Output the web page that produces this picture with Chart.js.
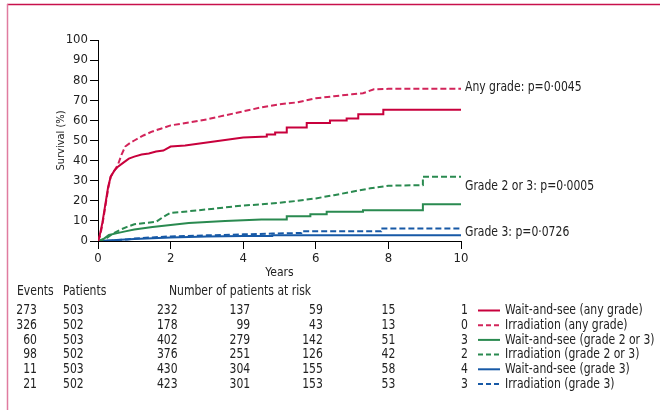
<!DOCTYPE html>
<html>
<head>
<meta charset="utf-8">
<script src="https://cdn.jsdelivr.net/npm/chart.js@4/dist/chart.umd.min.js"></script>
<style>
  body { margin: 0; background: #fff; }
  canvas { display: block; }
</style>
</head>
<body>
<canvas id="myChart" width="660" height="410"></canvas>
<script>
// cumulative incidence curves (years, %)
var waitAnyYears = [0, 0.05, 0.12, 0.2, 0.28, 0.35, 0.45, 0.55, 0.7, 0.85, 1, 1.2, 1.4, 1.6, 1.8, 2, 2.4, 2.8, 3.2, 3.6, 4, 4.65, 4.65, 4.88, 4.88, 5.2, 5.2, 5.75, 5.75, 6.39, 6.39, 6.85, 6.85, 7.17, 7.17, 7.86, 7.86, 10];
var waitAnyValues = [0, 3, 9, 18, 27, 32, 35, 37, 39, 41, 42, 43, 43.5, 44.5, 45, 47, 47.5, 48.5, 49.5, 50.5, 51.5, 52, 53, 53, 54, 54, 56.5, 56.5, 58.7, 58.7, 60, 60, 61, 61, 63, 63, 65.3, 65.3];

var irrAnyYears = [0, 0.05, 0.12, 0.2, 0.28, 0.35, 0.45, 0.55, 0.65, 0.75, 0.9, 1, 1.25, 1.5, 1.75, 2, 2.5, 3, 3.5, 4, 4.5, 5, 5.5, 6, 6.5, 7, 7.3, 7.6, 8, 10];
var irrAnyValues = [0, 2, 8, 17, 26, 32, 35, 38, 43, 47, 49, 50, 52.5, 54.5, 56, 57.5, 59, 60.5, 62.5, 64.5, 66.5, 68, 69, 71, 72, 73, 73.5, 75.5, 75.7, 75.7];

var wait23Years = [0, 0.15, 0.3, 0.5, 0.75, 1, 1.5, 2, 2.5, 3, 3.5, 4, 4.5, 5.2, 5.2, 5.85, 5.85, 6.3, 6.3, 7.3, 7.3, 8.95, 8.95, 10];
var wait23Values = [0, 1, 3, 3.8, 4.8, 5.7, 7, 8, 9, 9.5, 10, 10.3, 10.7, 10.7, 12.3, 12.3, 13.3, 13.3, 14.5, 14.5, 15.3, 15.3, 18.3, 18.3];

var irr23Years = [0, 0.2, 0.4, 0.6, 0.8, 1, 1.3, 1.6, 1.8, 2, 2.5, 3, 3.5, 4, 4.5, 5, 5.5, 6, 6.5, 7, 7.5, 8, 8.95, 8.95, 10];
var irr23Values = [0, 1, 3.5, 5.5, 7, 8.3, 9, 9.5, 12, 14, 14.8, 15.7, 16.7, 17.7, 18.2, 19, 20, 21.2, 22.8, 24.5, 26.2, 27.5, 27.8, 32, 32];

var wait3Years = [0, 0.5, 1, 2, 3, 4, 4.8, 4.8, 10];
var wait3Values = [0, 0.5, 1, 1.8, 2.2, 2.5, 2.5, 2.8, 2.8];

var irr3Years = [0, 0.4, 0.8, 1, 1.5, 2, 3, 4, 4.8, 5.6, 5.6, 7.8, 7.8, 10];
var irr3Values = [0, 0.3, 0.8, 1.2, 1.8, 2.3, 2.8, 3.3, 3.7, 4, 4.8, 4.8, 6.2, 6.2];

// p-value labels at the right end of the curves
var pLabels = ['Any grade: p=0\u00b70045', 'Grade 2 or 3: p=0\u00b70005', 'Grade 3: p=0\u00b70726'];
var pLabelValues = [76.3, 27.3, 4.3];

// risk table
var seriesNames = ['Wait-and-see (any grade)', 'Irradiation (any grade)', 'Wait-and-see (grade 2 or 3)', 'Irradiation (grade 2 or 3)', 'Wait-and-see (grade 3)', 'Irradiation (grade 3)'];
var events = [273, 326, 60, 98, 11, 21];
var patients = [503, 502, 503, 502, 503, 502];
var riskYears = [2, 4, 6, 8, 10];
var atRisk = [
    [232, 137, 59, 15, 1],
    [178, 99, 43, 13, 0],
    [402, 279, 142, 51, 3],
    [376, 251, 126, 42, 2],
    [430, 304, 155, 58, 4],
    [423, 301, 153, 53, 3]
];

var RED = '#c8003c', RED2 = '#d2245a', GREEN = '#2a8a50', BLUE = '#1759a6';
var FONT = '"DejaVu Sans Condensed", "DejaVu Sans", sans-serif';
var TEXT = '#222';
var SQUEEZE = 0.86; // reference font is narrower than anything installed

function toPoints(xs, ys) {
    var pts = [];
    for (var i = 0; i < xs.length; i++) pts.push({ x: xs[i], y: ys[i] });
    return pts;
}

function line(label, xs, ys, color, dashed) {
    return {
        label: label,
        data: toPoints(xs, ys),
        borderColor: color,
        backgroundColor: color,
        borderWidth: 2,
        borderDash: dashed ? [6, 3] : [],
        pointRadius: 0,
        fill: false,
        tension: 0
    };
}

var datasets = [
    line(seriesNames[0], waitAnyYears, waitAnyValues, RED, false),
    line(seriesNames[1], irrAnyYears, irrAnyValues, RED2, true),
    line(seriesNames[2], wait23Years, wait23Values, GREEN, false),
    line(seriesNames[3], irr23Years, irr23Values, GREEN, true),
    line(seriesNames[4], wait3Years, wait3Values, BLUE, false),
    line(seriesNames[5], irr3Years, irr3Values, BLUE, true)
];

function narrowText(ctx, text, x, y, align) {
    ctx.save();
    ctx.translate(x, y);
    ctx.scale(SQUEEZE, 1);
    ctx.textAlign = align;
    ctx.fillText(text, 0, 0);
    ctx.restore();
}

// frame, p-values and risk table
var extrasPlugin = {
    id: 'extras',
    beforeDraw: function (chart) {
        var ctx = chart.ctx;
        ctx.save();
        ctx.fillStyle = '#fff';
        ctx.fillRect(0, 0, chart.width, chart.height);
        ctx.lineWidth = 1.5;
        ctx.strokeStyle = '#c8104b';
        ctx.beginPath();
        ctx.moveTo(7, 4.5);
        ctx.lineTo(chart.width, 4.5);
        ctx.stroke();
        ctx.strokeStyle = '#e07ca0';
        ctx.beginPath();
        ctx.moveTo(7.5, 4);
        ctx.lineTo(7.5, chart.height);
        ctx.stroke();
        ctx.restore();
    },
    afterDraw: function (chart) {
        var ctx = chart.ctx;
        var xs = chart.scales.x, ys = chart.scales.y;
        ctx.save();
        ctx.fillStyle = TEXT;
        ctx.textBaseline = 'middle';
        ctx.font = '14px ' + FONT;

        for (var i = 0; i < pLabels.length; i++) {
            narrowText(ctx, pLabels[i], xs.right + 4, ys.getPixelForValue(pLabelValues[i]), 'left');
        }

        // headers
        var headY = 291;
        narrowText(ctx, 'Events', 17, headY, 'left');
        narrowText(ctx, 'Patients', 63, headY, 'left');
        narrowText(ctx, 'Number of patients at risk', 240, headY, 'center');

        var rowY = 310.5, rowStep = 14.7;
        for (var r = 0; r < events.length; r++) {
            var y = rowY + r * rowStep;
            narrowText(ctx, String(events[r]), 37, y, 'right');
            narrowText(ctx, String(patients[r]), 63, y, 'left');
            for (var c = 0; c < riskYears.length; c++) {
                narrowText(ctx, String(atRisk[r][c]), xs.getPixelForValue(riskYears[c]) + 7, y, 'right');
            }
            var ds = chart.data.datasets[r];
            ctx.strokeStyle = ds.borderColor;
            ctx.lineWidth = 2;
            ctx.setLineDash(ds.borderDash.length ? [5, 3] : []);
            ctx.beginPath();
            ctx.moveTo(478, y);
            ctx.lineTo(500, y);
            ctx.stroke();
            ctx.setLineDash([]);
            narrowText(ctx, seriesNames[r], 505, y, 'left');
        }
        ctx.restore();
    }
};

var ctx = document.getElementById('myChart');
var myChart = new Chart(ctx, {
    type: 'line',
    data: { datasets: datasets },
    options: {
        animation: false,
        responsive: false,
        devicePixelRatio: 1,
        layout: { padding: { left: 50, right: 199, top: 40, bottom: 129 } },
        plugins: {
            legend: { display: false },
            tooltip: { enabled: false }
        },
        scales: {
            x: {
                type: 'linear',
                min: 0,
                max: 10,
                ticks: { stepSize: 2, padding: 2, color: TEXT, font: { family: FONT, size: 13 } },
                grid: { drawOnChartArea: false, drawTicks: true, tickLength: 8, color: '#000' },
                border: { color: '#000', width: 1 },
                title: { display: true, text: 'Years', color: TEXT, font: { family: FONT, size: 12 }, padding: { top: 0, bottom: 1 } },
                afterFit: function (scale) { scale.height = 40; }
            },
            y: {
                min: 0,
                max: 100,
                ticks: { stepSize: 10, padding: 2, color: TEXT, font: { family: FONT, size: 13 } },
                grid: { drawOnChartArea: false, drawTicks: true, tickLength: 8, color: '#000' },
                border: { color: '#000', width: 1 },
                title: { display: true, text: 'Survival (%)', color: TEXT, font: { family: FONT, size: 11 }, padding: { top: 5, bottom: 0 } },
                afterFit: function (scale) { scale.width = 48; }
            }
        }
    },
    plugins: [extrasPlugin]
});
</script>
</body>
</html>
